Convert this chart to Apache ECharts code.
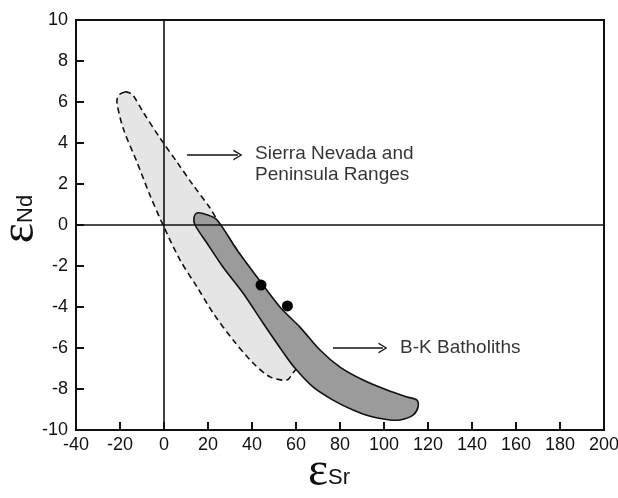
<!DOCTYPE html>
<html>
<head>
<meta charset="utf-8">
<script src="https://cdn.jsdelivr.net/npm/echarts@6/dist/echarts.min.js"></script>
<style>
	html, body { margin: 0; padding: 0; background: #fff; }
	#chart { width: 618px; height: 498px; }
</style>
</head>
<body>
<div id="chart"></div>
<script>
// Sierra Nevada and Peninsula Ranges field (outline, eSr / eNd)
var sierraX = [-17.7, -15.5, -14.1, -9.5, -1.8, 5.9, 13.2, 20.9, 25.5, 34.5, 40.0, 49.1, 57.3, 60.9, 58.6, 55.9, 48.2, 40.5, 31.4, 22.3, 15.0, 7.3, -0.45, -6.4, -12.3, -18.6, -21.4, -20.5];
var sierraY = [6.49, 6.44, 6.34, 5.51, 4.24, 3.07, 1.95, 0.83, 0.0, -1.46, -2.93, -4.39, -5.85, -6.83, -7.22, -7.56, -7.41, -6.73, -5.61, -4.29, -3.02, -1.71, 0.0, 1.46, 3.07, 4.73, 6.0, 6.34];

// B-K Batholiths field
var bkX = [15.0, 19.5, 24.1, 33.2, 42.3, 52.7, 61.8, 70.9, 80.0, 90.5, 101.4, 110.5, 115.0, 115.5, 113.2, 107.3, 102.7, 95.0, 85.9, 76.8, 67.7, 59.5, 54.1, 45.0, 35.9, 26.8, 19.5, 14.1, 13.6];
var bkY = [0.59, 0.5, 0.24, -1.22, -2.54, -4.0, -4.98, -6.10, -6.93, -7.56, -8.05, -8.39, -8.54, -8.88, -9.27, -9.51, -9.51, -9.37, -9.02, -8.54, -7.90, -6.98, -6.2, -4.78, -3.32, -2.05, -0.88, 0.0, 0.35];

// samples
var sampleX = [44.1, 56.1];
var sampleY = [-2.93, -3.95];

// annotations
var labelText = ['Sierra Nevada and\nPeninsula Ranges', 'B-K Batholiths'];
var labelX = [41.4, 107.3];
var labelY = [2.95, -6.0];
var arrowFromX = [10.5, 76.8];
var arrowToX = [33.6, 99.5];
var arrowY = [3.41, -6.0];

var chart = echarts.init(document.getElementById('chart'));

let zip = (xs, ys) => xs.map(function(x, i){ return [x, ys[i]]; });

let fieldSeries = (xs, ys, fill, dash, z) => {
	return {
		type: 'custom',
		z: z,
		silent: true,
		data: [[xs[0], ys[0]]],
		renderItem: function(params, api){
			var pts = zip(xs, ys).map(function(p){ return api.coord(p); });
			return {
				type: 'polygon',
				shape: { points: pts, smooth: 0.3 },
				style: {
					fill: fill,
					stroke: '#111',
					lineWidth: 1.6,
					lineDash: dash
				}
			};
		}
	};
};

var chevron = 'path://M0,10 L5,0 L10,10 L8.6,10 L5,2.6 L1.4,10 Z';

var arrowLines = arrowY.map(function(y, i){
	return [{ coord: [arrowFromX[i], y] }, { coord: [arrowToX[i], y] }];
});

var labelData = labelText.map(function(t, i){
	return { value: [labelX[i], labelY[i]], label: { formatter: t } };
});

var axisName = {
	e: { fontSize: 48, lineHeight: 48, fontFamily: 'Liberation Serif', color: '#111' },
	s: { fontSize: 22, fontFamily: 'Liberation Sans', color: '#111', padding: [12, 0, 0, 0] }
};

var option = {
	animation: false,
	grid: {
		left: 76, right: 14, top: 20, bottom: 68,
		containLabel: false, outerBoundsMode: 'none',
		show: true, borderColor: '#111', borderWidth: 2
	},
	xAxis: {
		type: 'value', min: -40, max: 200, interval: 20,
		name: '{e|ε}{s|Sr}',
		nameLocation: 'middle', nameGap: 18, nameMoveOverlap: false,
		nameTextStyle: { rich: axisName, padding: [0, 22, 0, 0] },
		axisLine: { onZero: false, lineStyle: { color: '#111', width: 2 } },
		axisTick: { show: true, inside: true, length: 8, lineStyle: { width: 2, color: '#111' } },
		axisLabel: { fontSize: 18, color: '#111', fontFamily: 'Liberation Sans', margin: 6 },
		splitLine: { show: false }
	},
	yAxis: {
		type: 'value', min: -10, max: 10, interval: 2,
		name: '{e|ε}{s|Nd}',
		nameLocation: 'middle', nameGap: 32, nameMoveOverlap: false,
		nameTextStyle: { rich: axisName, padding: [0, 0, 0, 12] },
		axisLine: { onZero: false, lineStyle: { color: '#111', width: 2 } },
		axisTick: { show: true, inside: true, length: 8, lineStyle: { width: 2, color: '#111' } },
		axisLabel: { fontSize: 18, color: '#111', fontFamily: 'Liberation Sans', margin: 8 },
		splitLine: { show: false }
	},
	series: [
		{
			type: 'line',
			data: [],
			z: 1,
			markLine: {
				silent: true,
				symbol: 'none',
				label: { show: false },
				lineStyle: { color: '#111', width: 1.6, type: 'solid' },
				data: [{ xAxis: 0 }, { yAxis: 0 }]
			}
		},
		fieldSeries(sierraX, sierraY, '#e5e5e5', [6, 4], 2),
		fieldSeries(bkX, bkY, '#9b9b9b', null, 3),
		{
			type: 'scatter',
			z: 4,
			symbolSize: 11,
			itemStyle: { color: '#000', opacity: 1 },
			data: zip(sampleX, sampleY)
		},
		{
			type: 'scatter',
			z: 5,
			symbolSize: 0,
			silent: true,
			label: {
				show: true, position: 'right', distance: 0,
				fontSize: 19, lineHeight: 21, color: '#000', fontFamily: 'Liberation Sans'
			},
			data: labelData,
			markLine: {
				silent: true,
				symbol: ['none', chevron],
				symbolSize: [11, 9],
				label: { show: false },
				lineStyle: { color: '#111', width: 1.6, type: 'solid' },
				data: arrowLines
			}
		}
	]
};
chart.setOption(option);
</script>
</body>
</html>
